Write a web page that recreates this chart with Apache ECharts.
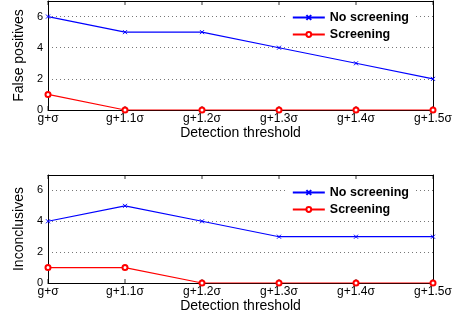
<!DOCTYPE html>
<html>
<head>
<meta charset="utf-8">
<script src="https://cdn.jsdelivr.net/npm/echarts@6/dist/echarts.min.js"></script>
<style>
  html, body { margin: 0; padding: 0; background: #fff; }
  #chart { width: 455px; height: 328px; }
</style>
</head>
<body>
<div id="chart"></div>
<script>
// thresholds on the x axis
const thresholds = ["g+σ", "g+1.1σ", "g+1.2σ", "g+1.3σ", "g+1.4σ", "g+1.5σ"];

// top panel: false positives
const fpNoScreening = [6, 5, 5, 4, 3, 2];
const fpScreening = [1, 0, 0, 0, 0, 0];

// bottom panel: inconclusives
const incNoScreening = [4, 5, 4, 3, 3, 3];
const incScreening = [1, 1, 0, 0, 0, 0];

const yTicks = [0, 2, 4, 6];
const yMax = 7;

const FONT = "Liberation Sans, Arial, sans-serif";
const crossPath = "path://M0,0L10,10M10,0L0,10";

const chart = echarts.init(document.getElementById("chart"));

// pair each value with its threshold index
const pts = (vals) => vals.map((v, i) => [i, v]);

function xAxes(gridIndex) {
  return [
    {
      gridIndex: gridIndex,
      type: "value",
      min: 0,
      max: thresholds.length - 1,
      interval: 1,
      name: "Detection threshold",
      nameLocation: "middle",
      nameGap: 12,
      nameTextStyle: { fontFamily: FONT, fontSize: 14, color: "#000", verticalAlign: "top" },
      axisLine: { show: true, onZero: false, lineStyle: { color: "#000", width: 1 } },
      axisTick: { show: false },
      axisLabel: {
        fontFamily: FONT, fontSize: 12, color: "#000", margin: 3,
        formatter: (v) => thresholds[v] || "",
      },
      splitLine: { show: false },
    },
    {
      gridIndex: gridIndex,
      type: "value",
      min: 0,
      max: thresholds.length - 1,
      interval: 1,
      position: "top",
      axisLine: { show: true, onZero: false, lineStyle: { color: "#000", width: 1 } },
      axisTick: { show: false },
      axisLabel: { show: false },
      splitLine: { show: false },
    },
  ];
}

function yAxes(gridIndex, title) {
  return [
    {
      gridIndex: gridIndex,
      type: "value",
      min: 0,
      max: yMax,
      interval: 1,
      name: title,
      nameLocation: "middle",
      nameGap: 20,
      nameTextStyle: { fontFamily: FONT, fontSize: 14, color: "#000" },
      axisLine: { show: true, onZero: false, lineStyle: { color: "#000", width: 1 } },
      axisTick: { show: false },
      axisLabel: {
        fontFamily: FONT, fontSize: 11, color: "#000", margin: 5,
        formatter: (v) => (yTicks.includes(v) ? String(v) : ""),
      },
      splitLine: {
        show: true,
        lineStyle: {
          color: ["transparent", "transparent", "#777", "transparent", "#777", "transparent", "#777", "transparent"],
          type: [1, 3],
          width: 1,
        },
      },
    },
    {
      gridIndex: gridIndex,
      type: "value",
      min: 0,
      max: yMax,
      interval: 1,
      position: "right",
      axisLine: { show: true, onZero: false, lineStyle: { color: "#000", width: 1 } },
      axisTick: { show: false },
      axisLabel: { show: false },
      splitLine: { show: false },
    },
  ];
}

// small inward tick marks at each threshold, on the bottom and top edges
function tickSeries(idx) {
  return [
    {
      type: "scatter",
      xAxisIndex: idx * 2,
      yAxisIndex: idx * 2,
      data: thresholds.map((t, i) => [i, 0]),
      symbol: "rect",
      symbolSize: [1, 4],
      symbolOffset: [0, -2],
      itemStyle: { color: "#000" },
      silent: true,
      z: 1,
    },
    {
      type: "scatter",
      xAxisIndex: idx * 2,
      yAxisIndex: idx * 2,
      data: thresholds.map((t, i) => [i, yMax]),
      symbol: "rect",
      symbolSize: [1, 4],
      symbolOffset: [0, 2],
      itemStyle: { color: "#000" },
      silent: true,
      z: 1,
    },
  ];
}

function blueSeries(name, data, idx) {
  return {
    name: name,
    type: "line",
    xAxisIndex: idx * 2,
    yAxisIndex: idx * 2,
    data: pts(data),
    symbol: crossPath,
    symbolSize: 4,
    color: "#0000ff",
    itemStyle: { color: "#0000ff", borderColor: "#0000ff", borderWidth: 1 },
    lineStyle: { color: "#0000ff", width: 1.2 },
    z: 2,
  };
}

function redSeries(name, data, idx) {
  return {
    name: name,
    type: "line",
    xAxisIndex: idx * 2,
    yAxisIndex: idx * 2,
    data: pts(data),
    symbol: "emptyCircle",
    symbolSize: 5,
    color: "#ff0000",
    itemStyle: { color: "#ff0000", borderColor: "#ff0000", borderWidth: 1 },
    lineStyle: { color: "#ff0000", width: 1.2 },
    z: 3,
  };
}

const legendBase = {
  orient: "vertical",
  right: 40,
  itemWidth: 32,
  itemHeight: 6,
  itemGap: 4,
  padding: [4, 6, 4, 4],
  backgroundColor: "#fff",
  textStyle: { fontFamily: FONT, fontSize: 12.5, fontWeight: "bold", color: "#000" },
  data: ["No screening", "Screening"],
};

const option = {
  backgroundColor: "#fff",
  animation: false,
  grid: [
    { left: 48, right: 22, top: 1, height: 109 },
    { left: 48, right: 22, top: 175, height: 108 },
  ],
  legend: [
    Object.assign({}, legendBase, { top: 7 }),
    Object.assign({}, legendBase, { top: 182 }),
  ],
  xAxis: [...xAxes(0), ...xAxes(1)],
  yAxis: [...yAxes(0, "False positives"), ...yAxes(1, "Inconclusives")],
  series: [
    ...tickSeries(0),
    ...tickSeries(1),
    blueSeries("No screening", fpNoScreening, 0),
    redSeries("Screening", fpScreening, 0),
    blueSeries("No screening", incNoScreening, 1),
    redSeries("Screening", incScreening, 1),
  ],
};

chart.setOption(option);
</script>
</body>
</html>
